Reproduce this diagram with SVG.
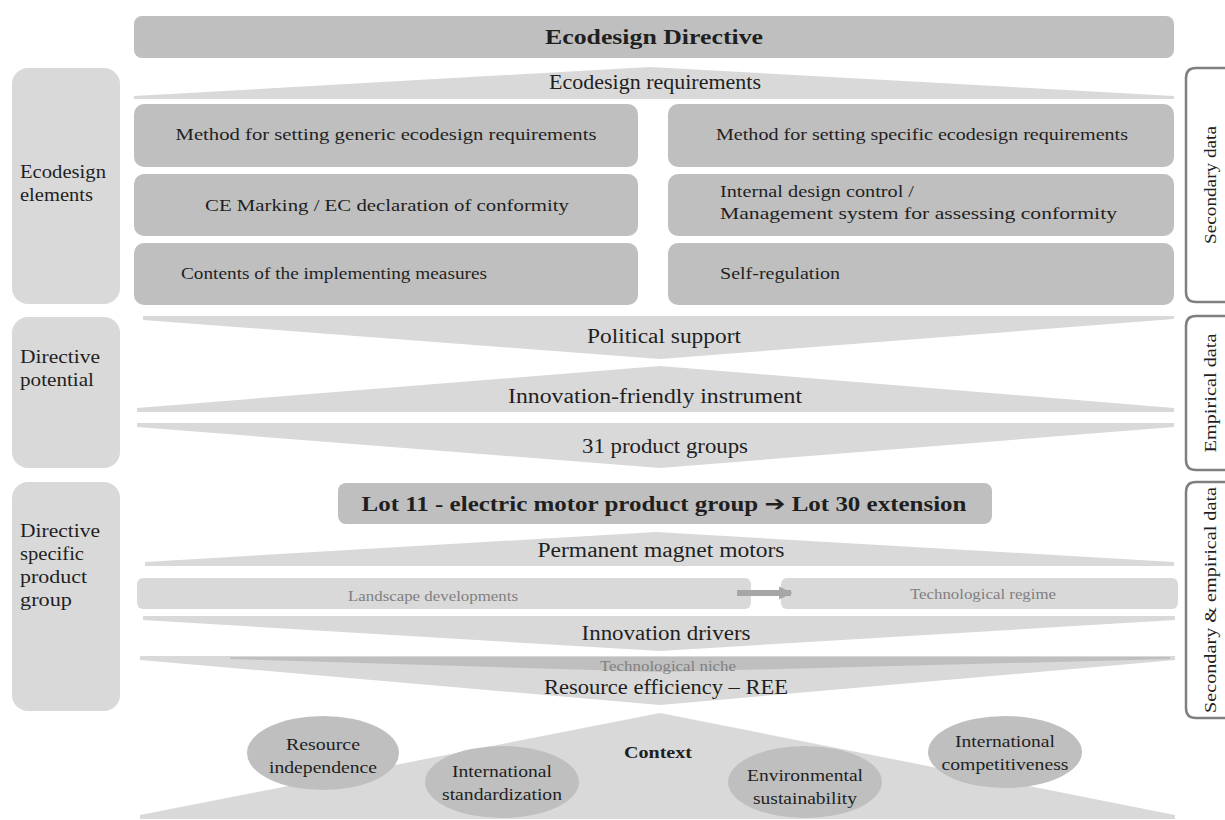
<svg xmlns="http://www.w3.org/2000/svg" width="1225" height="820" viewBox="0 0 1225 820">
  <style>
    text { font-family: "Liberation Serif", "Times New Roman", serif; fill: #1f1f1f; }
    .mid { text-anchor: middle; }
    .box { fill: #bfbfbf; }
    .light { fill: #d9d9d9; }
    .lbl { font-size: 17.5px; }
    .side { font-size: 18px; }
    .chev { font-size: 20px; }
    .small { font-size: 14.5px; fill: #808080; }
    .ell { font-size: 17.5px; }
    .bracket { fill: none; stroke: #7f7f7f; stroke-width: 2.5; }
    .brk { font-size: 17.5px; }
  </style>
  <defs>
    <marker id="head" viewBox="0 0 10 10" refX="9" refY="5" markerWidth="2.2" markerHeight="2.6" orient="auto" markerUnits="strokeWidth">
      <path d="M0,0 L10,5 L0,10 z" fill="#a6a6a6"/>
    </marker>
  </defs>

  <rect width="1225" height="820" fill="#ffffff"/>

  <!-- row labels on the left -->
  <g id="label-elements">
    <rect class="light" x="12" y="68" width="108" height="236" rx="16"/>
    <text class="side" x="20" y="178" textLength="86" lengthAdjust="spacingAndGlyphs">Ecodesign</text>
    <text class="side" x="20" y="201" textLength="73" lengthAdjust="spacingAndGlyphs">elements</text>
  </g>
  <g id="label-potential">
    <rect class="light" x="12" y="317" width="108" height="151" rx="16"/>
    <text class="side" x="20" y="363" textLength="80" lengthAdjust="spacingAndGlyphs">Directive</text>
    <text class="side" x="20" y="386" textLength="74" lengthAdjust="spacingAndGlyphs">potential</text>
  </g>
  <g id="label-product-group">
    <rect class="light" x="12" y="482" width="108" height="229" rx="16"/>
    <text class="side" x="20" y="537" textLength="80" lengthAdjust="spacingAndGlyphs">Directive</text>
    <text class="side" x="20" y="560" textLength="64" lengthAdjust="spacingAndGlyphs">specific</text>
    <text class="side" x="20" y="583" textLength="67" lengthAdjust="spacingAndGlyphs">product</text>
    <text class="side" x="20" y="606" textLength="52" lengthAdjust="spacingAndGlyphs">group</text>
  </g>

  <!-- data source brackets on the right -->
  <g id="src-secondary">
    <path class="bracket" d="M1226,68 H1196 Q1186,68 1186,78 V292 Q1186,302 1196,302 H1226"/>
    <text class="brk mid" transform="translate(1216,185) rotate(-90)" textLength="118" lengthAdjust="spacingAndGlyphs">Secondary data</text>
  </g>
  <g id="src-empirical">
    <path class="bracket" d="M1226,316 H1196 Q1186,316 1186,326 V460 Q1186,470 1196,470 H1226"/>
    <text class="brk mid" transform="translate(1216,393) rotate(-90)" textLength="119" lengthAdjust="spacingAndGlyphs">Empirical data</text>
  </g>
  <g id="src-both">
    <path class="bracket" d="M1226,482 H1196 Q1186,482 1186,492 V708 Q1186,718 1196,718 H1226"/>
    <text class="brk mid" transform="translate(1216,600) rotate(-90)" textLength="226" lengthAdjust="spacingAndGlyphs">Secondary &amp; empirical data</text>
  </g>

  <!-- header -->
  <g id="directive">
    <rect class="box" x="134" y="16" width="1040" height="42" rx="8"/>
    <text class="mid" x="654" y="44" font-size="21" font-weight="bold" textLength="218" lengthAdjust="spacingAndGlyphs">Ecodesign Directive</text>
  </g>
  <g id="requirements">
    <polygon class="light" points="134,96 650,67 1174,96 1174,99 134,99"/>
    <text class="chev mid" x="655" y="89" textLength="212" lengthAdjust="spacingAndGlyphs">Ecodesign requirements</text>
  </g>

  <!-- ecodesign elements -->
  <g id="el-generic">
    <rect class="box" x="134" y="104" width="504" height="63" rx="10"/>
    <text class="lbl mid" x="386" y="140" textLength="421" lengthAdjust="spacingAndGlyphs">Method for setting generic ecodesign requirements</text>
  </g>
  <g id="el-specific">
    <rect class="box" x="668" y="104" width="506" height="63" rx="10"/>
    <text class="lbl mid" x="922" y="140" textLength="412" lengthAdjust="spacingAndGlyphs">Method for setting specific ecodesign requirements</text>
  </g>
  <g id="el-ce">
    <rect class="box" x="134" y="174" width="504" height="62" rx="10"/>
    <text class="lbl mid" x="387" y="211" textLength="364" lengthAdjust="spacingAndGlyphs">CE Marking / EC declaration of conformity</text>
  </g>
  <g id="el-internal">
    <rect class="box" x="668" y="174" width="506" height="62" rx="10"/>
    <text class="lbl" x="720" y="197" textLength="194" lengthAdjust="spacingAndGlyphs">Internal design control /</text>
    <text class="lbl" x="720" y="219" textLength="397" lengthAdjust="spacingAndGlyphs">Management system for assessing conformity</text>
  </g>
  <g id="el-contents">
    <rect class="box" x="134" y="243" width="504" height="62" rx="10"/>
    <text class="lbl" x="181" y="279" textLength="306" lengthAdjust="spacingAndGlyphs">Contents of the implementing measures</text>
  </g>
  <g id="el-self">
    <rect class="box" x="668" y="243" width="506" height="62" rx="10"/>
    <text class="lbl" x="720" y="279" textLength="120" lengthAdjust="spacingAndGlyphs">Self-regulation</text>
  </g>

  <!-- directive potential -->
  <g id="political">
    <polygon class="light" points="143,316 1174,316 1174,319 660,359 143,320"/>
    <text class="chev mid" x="664" y="343" textLength="154" lengthAdjust="spacingAndGlyphs">Political support</text>
  </g>
  <g id="innovation-friendly">
    <polygon class="light" points="137,408 660,366 1174,408 1174,412 137,412"/>
    <text class="chev mid" x="655" y="403" textLength="294" lengthAdjust="spacingAndGlyphs">Innovation-friendly instrument</text>
  </g>
  <g id="product-groups">
    <polygon class="light" points="137,423 1174,423 1174,427 660,468 137,427"/>
    <text class="chev mid" x="665" y="453" textLength="166" lengthAdjust="spacingAndGlyphs">31 product groups</text>
  </g>

  <!-- product group -->
  <g id="lot">
    <rect class="box" x="338" y="483" width="654" height="41" rx="8"/>
    <text class="mid" x="664" y="511" font-size="21" font-weight="bold" textLength="605" lengthAdjust="spacingAndGlyphs">Lot 11 - electric motor product group <tspan font-family="DejaVu Sans, sans-serif" font-size="21">➔</tspan>  Lot 30 extension</text>
  </g>
  <g id="pm-motors">
    <polygon class="light" points="145,562 656,532 1174,562 1174,566 145,566"/>
    <text class="chev mid" x="661" y="557" textLength="247" lengthAdjust="spacingAndGlyphs">Permanent magnet motors</text>
  </g>
  <g id="landscape">
    <rect class="light" x="137" y="578" width="614" height="31" rx="6"/>
    <text class="small mid" x="433" y="601" textLength="170" lengthAdjust="spacingAndGlyphs">Landscape developments</text>
  </g>
  <g id="regime">
    <rect class="light" x="781" y="578" width="397" height="31" rx="6"/>
    <text class="small mid" x="983" y="599" textLength="146" lengthAdjust="spacingAndGlyphs">Technological regime</text>
  </g>
  <g id="drivers">
    <polygon class="light" points="143,616 1175,616 1175,620 660,651 143,620"/>
    <text class="chev mid" x="666" y="640" textLength="169" lengthAdjust="spacingAndGlyphs">Innovation drivers</text>
  </g>
  <g id="ree">
    <polygon class="light" points="140,656 1175,656 1175,660 660,705 140,660"/>
    <polygon class="box" points="230,657 1170,657 1170,659 660,672 230,659"/>
    <text class="small mid" x="668" y="671" textLength="136" lengthAdjust="spacingAndGlyphs">Technological niche</text>
    <text class="chev mid" x="666" y="694" textLength="244" lengthAdjust="spacingAndGlyphs">Resource efficiency – REE</text>
  </g>

  <!-- context -->
  <g id="context">
    <polygon class="light" points="660,713 1175,815 1175,819 140,819 140,815"/>
    <text class="mid" x="658" y="758" font-size="17.5" font-weight="bold" textLength="68" lengthAdjust="spacingAndGlyphs">Context</text>
  </g>
  <g id="ctx-independence">
    <ellipse class="box" cx="323" cy="753" rx="76" ry="37"/>
    <text class="ell mid" x="323" y="750" textLength="74" lengthAdjust="spacingAndGlyphs">Resource</text>
    <text class="ell mid" x="323" y="773" textLength="108" lengthAdjust="spacingAndGlyphs">independence</text>
  </g>
  <g id="ctx-standardization">
    <ellipse class="box" cx="502" cy="782" rx="77" ry="36"/>
    <text class="ell mid" x="502" y="777" textLength="100" lengthAdjust="spacingAndGlyphs">International</text>
    <text class="ell mid" x="502" y="800" textLength="120" lengthAdjust="spacingAndGlyphs">standardization</text>
  </g>
  <g id="ctx-sustainability">
    <ellipse class="box" cx="805" cy="782" rx="77" ry="36"/>
    <text class="ell mid" x="805" y="781" textLength="116" lengthAdjust="spacingAndGlyphs">Environmental</text>
    <text class="ell mid" x="805" y="804" textLength="104" lengthAdjust="spacingAndGlyphs">sustainability</text>
  </g>
  <g id="ctx-competitiveness">
    <ellipse class="box" cx="1005" cy="752" rx="77" ry="36"/>
    <text class="ell mid" x="1005" y="747" textLength="100" lengthAdjust="spacingAndGlyphs">International</text>
    <text class="ell mid" x="1005" y="770" textLength="127" lengthAdjust="spacingAndGlyphs">competitiveness</text>
  </g>

  <!-- connectors -->
  <g id="connectors">
    <line x1="737" y1="593" x2="791" y2="593" stroke="#a6a6a6" stroke-width="6" marker-end="url(#head)"/>
  </g>
</svg>
